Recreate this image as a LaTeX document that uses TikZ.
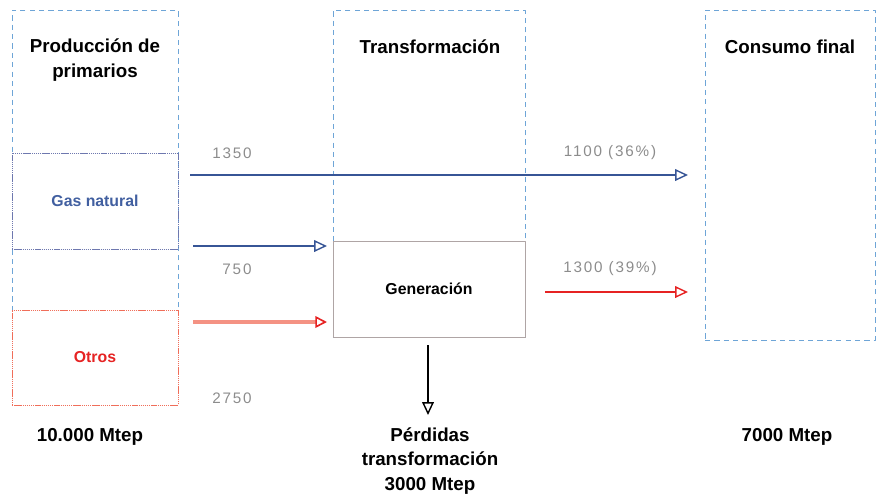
\documentclass[tikz,border=0pt]{standalone}
\usepackage{fontspec}
\setmainfont{Liberation Sans}
\usetikzlibrary{arrows.meta}
\usepackage{xcolor}
\definecolor{colblue}{RGB}{110,165,215}
\definecolor{flowblue}{RGB}{55,85,150}
\definecolor{gasblue}{RGB}{65,95,160}
\definecolor{gasline}{RGB}{110,120,175}
\definecolor{otrored}{RGB}{240,110,90}
\definecolor{genred}{RGB}{230,35,35}
\definecolor{numgray}{RGB}{140,140,140}
\definecolor{boxgray}{RGB}{175,165,165}

\begin{document}
\begin{tikzpicture}[x=0.03cm,y=-0.03cm,line join=round,
  colbox/.style={draw=colblue,dash pattern=on 4.5pt off 3.5pt,line width=.8pt},
  inbox/.style={fill=white,line width=.7pt,dash pattern=on 1.2pt off .6pt,font=\fontsize{13.5}{15}\selectfont\bfseries},
  title/.style={font=\fontsize{16}{21}\selectfont\bfseries,align=center},
  num/.style={text=numgray,font=\fontsize{13}{15}\selectfont\addfontfeature{LetterSpace=12}},
  tip/.style={-{Triangle[open,length=11pt,width=10pt]}},
  flow/.style={tip,line width=1.2pt}]
  \useasboundingbox (0,0) rectangle (883,498);
  % columnas
  \node[colbox,minimum width=4.98cm,minimum height=9cm] (prod) at (95,160) {};
  \node[colbox,minimum width=5.76cm,minimum height=9.81cm] (trans) at (429,173.5) {};
  \node[colbox,minimum width=5.1cm,minimum height=9.9cm] (cons) at (790,175) {};
  % cajas
  \node[inbox,draw=gasline,text=gasblue,minimum width=4.98cm,minimum height=2.88cm] (gas) at (95,201) {Gas natural};
  \node[inbox,draw=otrored,text=genred,minimum width=4.98cm,minimum height=2.85cm] (otros) at (95,357.5) {Otros};
  \node[inbox,draw=boxgray,solid,text=black,minimum width=5.76cm,minimum height=2.88cm] (gen) at (429,289) {Generación};
  % titulos
  \node[title] (tprod) at (95,60) {Producción de\\primarios};
  \node[title] (ttrans) at (430,47) {Transformación};
  \node[title] (tcons) at (790,47) {Consumo final};
  \node[title] (mprod) at (90,437) {10.000 Mtep};
  \node[title] (mcons) at (787,437) {7000 Mtep};
  \node[title] (perd) at (430,461) {Pérdidas\\transformación\\3000 Mtep};
  % cantidades
  \foreach \p/\t/\n in {232/153/1350, 237/269/750, 232/398/2750, 610/153/1100 (36\%), 610/269/1300 (39\%)}
    \node[num] (n\p\t) at (\p,\t) {\n};
  % flujos
  \coordinate (g1) at (190,175); \coordinate (c1) at (688,175);
  \coordinate (g2) at (193,246); \coordinate (t2) at (327,246);
  \coordinate (o1) at (193,322); \coordinate (t3) at (327,322);
  \coordinate (s1) at (545,292); \coordinate (c2) at (688,292);
  \coordinate (s2) at (428,345); \coordinate (p1) at (428,415);
  \draw[flow,flowblue] (g1) -- (c1);
  \draw[flow,flowblue] (g2) -- (t2);
  \draw[color=otrored!75,line width=2.6pt,-{Triangle[open,length=10pt,width=10pt,line width=1.4pt,genred]}] (o1) -- (t3);
  \draw[flow,genred] (s1) -- (c2);
  \draw[flow,black] (s2) -- (p1);
\end{tikzpicture}
\end{document}
